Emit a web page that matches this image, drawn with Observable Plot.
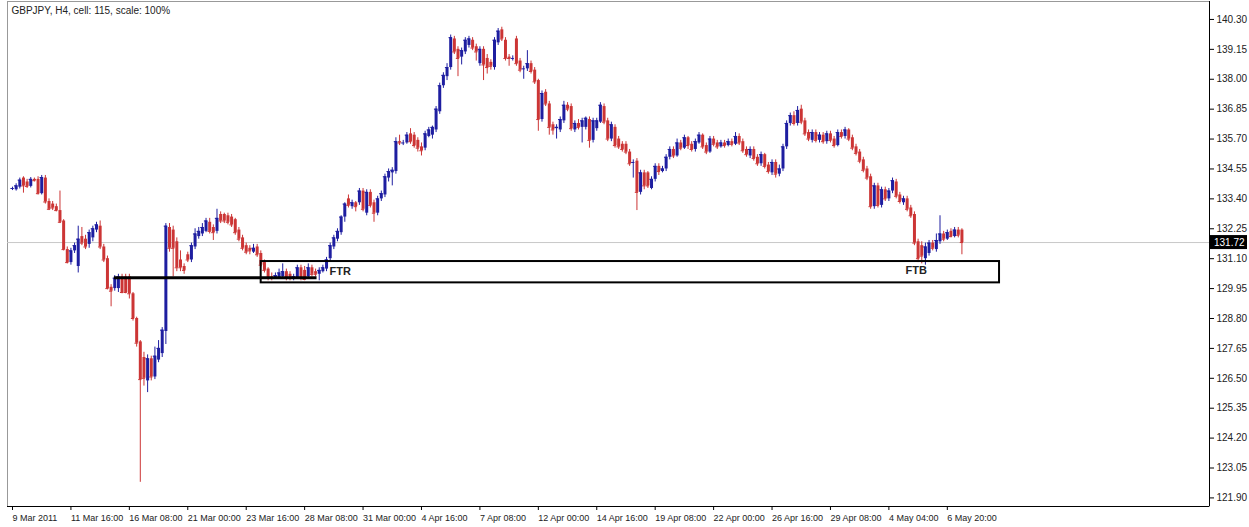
<!DOCTYPE html>
<html>
<head>
<meta charset="utf-8">
<script src="https://cdn.jsdelivr.net/npm/d3@7"></script>
<script src="https://cdn.jsdelivr.net/npm/@observablehq/plot@0.6"></script>
<style>
  html, body { margin: 0; padding: 0; background: #fff; }
  #chart svg { display: block; }
</style>
</head>
<body>
<div id="chart"></div>
<script>
const chartTitle = "GBPJPY, H4, cell: 115, scale: 100%";

// OHLC per H4 bar (bar index 0 = 9 Mar 2011)
const open = [
133.78,133.75,133.85,134.20,134.05,133.88,134.15,134.15,133.60,134.20,
133.30,133.20,133.10,132.95,132.55,131.45,130.95,131.40,130.80,131.95,
131.85,131.65,131.90,132.20,132.35,131.55,131.10,130.00,129.95,129.95,
130.40,130.40,130.40,129.75,128.80,127.90,127.30,126.40,127.25,126.55,
127.20,127.45,128.30,132.30,132.20,131.75,131.05,130.80,131.25,131.05,
131.55,131.95,132.05,132.15,132.50,132.30,132.15,132.80,132.80,132.75,
132.70,132.60,132.20,131.90,131.60,131.50,131.35,131.55,131.30,130.95,
130.70,130.40,130.35,130.35,130.40,130.60,130.50,130.30,130.35,130.75,
130.65,130.40,130.75,130.60,130.50,130.60,130.70,131.10,131.55,131.85,
132.10,132.70,133.40,133.10,133.25,133.25,133.70,132.85,133.65,133.25,
132.85,133.40,133.55,134.20,134.40,134.45,135.60,135.55,135.55,135.90,
135.85,135.65,135.40,135.35,135.80,135.85,136.05,136.75,137.75,138.10,
138.45,139.55,139.15,138.85,139.05,139.30,139.50,139.25,138.60,139.15,
138.80,138.65,138.45,139.40,139.90,139.50,138.85,138.80,139.55,138.70,
138.40,138.40,138.60,138.35,137.95,136.45,137.50,137.05,136.25,136.10,
136.05,136.40,137.00,136.95,136.05,136.30,136.15,136.15,136.45,135.65,
136.10,136.35,136.95,136.40,135.70,136.15,135.70,135.50,135.50,135.20,
134.80,134.85,133.65,134.40,134.40,133.80,134.15,134.65,134.45,134.55,
135.00,135.30,135.05,135.55,135.35,135.75,135.50,135.30,135.55,135.85,
135.45,135.20,135.70,135.55,135.40,135.55,135.45,135.60,135.50,135.80,
135.60,135.30,135.05,135.30,135.00,134.75,135.10,134.70,134.40,134.80,
134.35,134.55,135.40,136.30,136.60,136.30,136.85,136.40,135.95,135.65,
135.95,135.65,135.85,135.60,135.90,135.70,135.45,135.95,135.80,136.05,
135.75,135.40,135.20,134.90,134.55,134.25,133.10,133.90,133.15,133.75,
133.40,133.70,134.05,133.55,133.25,133.40,133.05,132.80,131.75,131.60,
131.10,131.30,131.70,131.45,131.75,132.05,131.85,132.15,131.95,132.20,
132.20
];
const high = [
133.85,133.98,134.20,134.25,134.15,134.22,134.20,134.25,134.30,134.30,
133.40,133.30,133.20,133.70,132.60,131.55,131.50,131.70,132.35,132.30,
132.00,132.20,132.35,132.50,132.55,131.65,131.20,130.10,130.45,130.50,
130.50,130.50,130.50,129.80,128.85,127.95,127.50,127.40,127.35,127.70,
127.95,128.45,132.45,132.45,132.35,131.90,131.40,130.90,131.35,131.70,
132.25,132.30,132.45,132.65,132.65,132.40,133.00,132.90,132.85,132.85,
132.80,132.65,132.30,132.00,131.70,131.60,131.65,131.65,131.40,131.05,
130.75,130.55,130.55,130.70,130.90,130.70,130.60,130.50,130.85,130.85,
130.80,130.90,130.85,130.70,130.75,130.85,131.15,131.70,132.00,132.25,
132.75,133.25,133.55,133.35,133.30,133.80,133.80,133.75,133.75,133.35,
133.50,133.70,134.35,134.55,134.60,135.75,135.85,135.65,135.95,136.10,
135.95,135.75,135.55,136.00,136.15,136.20,136.95,137.85,138.25,138.60,
139.70,139.65,139.25,139.20,139.60,139.65,139.60,139.35,139.25,139.25,
138.95,138.75,139.60,139.95,140.00,139.60,138.95,138.90,139.65,138.80,
138.50,139.10,138.70,138.45,138.00,137.55,137.60,137.15,136.35,136.25,
136.55,137.15,137.10,137.05,136.40,136.45,136.50,136.55,136.55,136.50,
136.50,137.10,137.05,136.50,136.35,136.25,135.80,135.60,135.60,135.30,
134.90,134.95,134.50,134.50,134.45,134.25,134.75,134.75,134.65,135.10,
135.40,135.40,135.70,135.65,135.85,135.80,135.60,135.70,135.95,135.90,
135.55,135.80,135.80,135.65,135.65,135.65,135.70,135.70,135.95,135.90,
135.70,135.40,135.40,135.40,135.10,135.20,135.15,134.80,134.90,134.90,
134.70,135.50,136.40,136.70,136.75,136.95,137.00,136.50,136.05,136.05,
136.05,135.95,135.95,136.00,136.00,135.80,136.05,136.05,136.15,136.10,
135.85,135.50,135.30,135.00,134.65,134.35,134.00,134.00,133.85,133.85,
133.80,134.20,134.15,133.65,133.50,133.50,133.15,132.90,131.85,131.75,
131.70,131.80,131.80,132.05,132.75,132.15,132.20,132.25,132.30,132.30,
132.25
];
const low = [
133.72,133.70,133.78,133.62,133.80,133.82,134.05,133.55,133.55,133.20,
132.95,132.95,132.90,132.45,131.40,130.90,130.85,131.30,130.55,131.60,
131.45,131.50,131.75,132.10,131.45,130.95,129.90,129.25,129.85,129.80,
129.75,129.75,129.55,128.70,127.70,122.50,126.20,125.95,126.40,126.45,
127.10,127.30,127.80,131.35,130.40,130.60,130.60,130.50,130.95,130.95,
131.45,131.85,131.95,132.10,132.05,131.80,132.05,132.45,132.45,132.40,
132.30,132.00,131.75,131.40,131.25,131.25,131.30,131.15,130.75,130.55,
130.25,130.25,130.30,130.30,130.30,130.25,130.25,130.25,130.30,130.25,
130.25,130.30,130.40,130.40,130.25,130.55,130.60,131.00,131.45,131.75,
132.00,132.50,133.05,133.00,132.90,133.15,132.90,132.75,133.05,132.50,
132.75,133.30,133.45,134.05,133.90,134.35,135.45,135.45,135.50,135.50,
135.35,135.20,135.05,135.25,135.75,135.70,135.95,136.65,137.65,137.95,
138.35,138.95,138.10,138.55,138.95,139.20,139.10,138.70,138.50,137.95,
138.20,138.35,138.35,139.30,139.45,138.70,138.50,138.70,138.50,138.25,
138.00,138.30,138.20,137.80,136.00,136.35,136.95,135.85,135.85,135.70,
135.95,136.30,136.75,136.00,135.95,136.05,135.55,136.05,135.35,135.55,
136.00,136.30,136.25,135.60,135.60,135.35,135.30,135.20,135.10,134.65,
134.20,132.95,133.55,133.75,133.80,133.75,134.05,134.30,134.40,134.45,
134.90,134.95,135.00,135.25,135.30,135.30,135.20,135.20,135.50,135.30,
135.10,135.15,135.40,135.30,135.35,135.35,135.40,135.40,135.45,135.45,
135.15,135.00,134.95,134.85,134.65,134.65,134.55,134.35,134.30,134.20,
134.25,134.45,135.30,136.20,136.20,136.20,136.25,135.80,135.60,135.55,
135.55,135.55,135.50,135.50,135.55,135.35,135.40,135.70,135.70,135.60,
135.25,135.05,134.75,134.40,134.10,133.00,133.00,133.05,133.05,133.30,
133.30,133.60,133.40,133.20,133.15,132.90,132.65,131.60,130.95,130.90,
130.85,131.20,131.40,131.35,131.65,131.75,131.80,131.90,131.90,131.90,
131.25
];
const close = [
133.80,133.90,134.12,133.90,133.88,134.15,134.10,133.60,134.22,133.28,
133.00,133.05,132.95,132.50,131.45,130.95,131.40,131.60,131.85,131.70,
131.55,132.10,132.25,132.40,131.55,131.05,129.95,129.85,130.35,130.40,
129.80,129.80,129.75,128.80,127.85,126.45,126.50,127.25,126.55,127.35,
127.65,128.35,132.35,131.50,131.50,130.75,130.75,130.65,131.05,131.60,
132.05,132.15,132.30,132.55,132.15,132.10,132.65,132.55,132.55,132.50,
132.40,132.10,131.85,131.50,131.35,131.40,131.50,131.25,130.85,130.65,
130.35,130.35,130.45,130.55,130.60,130.35,130.35,130.40,130.75,130.35,
130.30,130.75,130.50,130.50,130.65,130.75,131.05,131.60,131.90,132.15,
132.70,133.20,133.15,133.25,133.10,133.70,133.00,133.65,133.15,132.85,
133.40,133.60,134.25,134.45,134.50,135.60,135.55,135.55,135.85,135.60,
135.45,135.35,135.25,135.90,136.05,136.15,136.85,137.75,138.15,138.45,
139.60,139.05,138.80,139.10,139.50,139.55,139.20,139.05,139.15,138.55,
138.45,138.50,139.50,139.85,139.55,138.80,138.80,138.80,138.60,138.35,
138.40,138.60,138.30,137.90,136.45,137.45,137.05,136.15,136.05,136.15,
136.45,137.00,136.85,136.10,136.30,136.15,136.40,136.50,135.65,136.40,
136.40,137.00,136.35,135.70,136.25,135.45,135.40,135.30,135.20,134.75,
134.80,133.65,134.40,133.90,133.90,134.15,134.65,134.45,134.55,135.00,
135.30,135.05,135.55,135.35,135.75,135.45,135.30,135.60,135.85,135.40,
135.20,135.70,135.50,135.40,135.55,135.45,135.60,135.50,135.80,135.55,
135.25,135.10,135.30,134.95,134.75,135.10,134.65,134.45,134.80,134.35,
134.55,135.40,136.30,136.60,136.30,136.80,136.35,135.90,135.70,135.95,
135.65,135.85,135.60,135.90,135.65,135.45,135.95,135.80,136.05,135.70,
135.35,135.15,134.85,134.50,134.20,133.10,133.90,133.15,133.75,133.40,
133.70,134.10,133.50,133.30,133.40,133.00,132.75,131.70,131.10,131.20,
131.55,131.70,131.50,131.80,132.05,131.85,132.10,131.95,132.20,132.00,
131.72
];

// Bottom axis: a label every 16 bars
const xTickLabels = ["9 Mar 2011","11 Mar 16:00","16 Mar 08:00","21 Mar 00:00","23 Mar 16:00",
  "28 Mar 08:00","31 Mar 00:00","4 Apr 16:00","7 Apr 08:00","12 Apr 00:00","14 Apr 16:00",
  "19 Apr 08:00","22 Apr 00:00","26 Apr 16:00","29 Apr 08:00","4 May 04:00","6 May 20:00"];
const xTickBars = xTickLabels.map((_, k) => k * 16);
// Right axis price ticks
const yTicks = [140.30,139.15,138.00,136.85,135.70,134.55,133.40,132.25,131.10,129.95,
  128.80,127.65,126.50,125.35,124.20,123.05,121.90];
const lastPrice = 131.72;

// Annotations (bar index / price)
const zoneBars = [68.1, 270.3];
const zonePrices = [130.17, 130.99];
const levelBars = [27.9, 83.4];
const levelPrice = [130.37];
const ftrNote = {t: "FTR", x: 86.8, y: 130.62};
const ftbNote = {t: "FTB", x: 247.5, y: 130.64};

const xDomain = [-1.37, 327.8];
const yDomain = [121.57, 140.99];

const candles = open.map((o, i) => ({i, o, h: high[i], l: low[i], c: close[i], up: close[i] >= o}));
const BLUE = "#1e1ea0", RED = "#cc3535";
const FONT = "'Liberation Sans', Arial, sans-serif";

const plot = Plot.plot({
  width: 1249,
  height: 527,
  marginLeft: 7,
  marginRight: 40,
  marginTop: 1,
  marginBottom: 21,
  style: {fontFamily: FONT, background: "#fff"},
  x: {type: "linear", domain: xDomain, axis: null},
  y: {type: "linear", domain: yDomain, axis: null},
  marks: [
    Plot.frame({stroke: "#999"}),
    Plot.ruleX([xDomain[1]], {stroke: "#000", strokeWidth: 1}),
    Plot.ruleY([yDomain[0]], {stroke: "#000", strokeWidth: 1}),
    Plot.ruleY([lastPrice], {stroke: "#c8c8c8", strokeWidth: 1}),
    Plot.axisY(yTicks, {anchor: "right", tickSize: 4, tickPadding: 3, fontSize: 10, fill: "#222",
      tickFormat: d => d.toFixed(2)}),
    Plot.axisX(xTickBars, {anchor: "bottom", tickSize: 4, tickPadding: 4, fontSize: 9, fill: "#222",
      textAnchor: "start", tickFormat: d => xTickLabels[d / 16]}),
    // wicks
    Plot.ruleX(candles, {x: "i", y1: "l", y2: "h", stroke: d => d.up ? BLUE : RED, strokeWidth: 1}),
    // bodies
    Plot.ruleX(candles, {x: "i", y1: "o", y2: "c", stroke: d => d.up ? BLUE : RED, strokeWidth: 3, strokeLinecap: "butt"}),
    // close tick (visible for doji bars)
    Plot.ruleY(candles, {y: "c", x1: d => d.i - 0.45, x2: d => d.i + 0.45, stroke: d => d.up ? BLUE : RED, strokeWidth: 1}),
    // annotations
    Plot.ruleY(levelPrice, {x1: levelBars[0], x2: levelBars[1], stroke: "#000", strokeWidth: 3}),
    Plot.rect([0], {x1: zoneBars[0], x2: zoneBars[1], y1: zonePrices[0], y2: zonePrices[1], fill: "none", stroke: "#000", strokeWidth: 2}),
    Plot.text([ftrNote], {x: "x", y: "y", text: "t", textAnchor: "start", fontSize: 11, fontWeight: "bold", fill: "#222"}),
    Plot.text([ftbNote], {x: "x", y: "y", text: "t", textAnchor: "middle", fontSize: 11, fontWeight: "bold", fill: "#222"}),
    Plot.text([chartTitle], {frameAnchor: "top-left", dx: 4, dy: 5, fontSize: 10, fill: "#222", textAnchor: "start"})
  ]
});

document.getElementById("chart").appendChild(plot);

// last-price tag on the right axis
const svg = d3.select(plot);
const yPos = plot.scale("y").apply(lastPrice);
const tagX = 1249 - 40;
const g = svg.append("g");
g.append("rect").attr("x", tagX + 1).attr("y", yPos - 7).attr("width", 37).attr("height", 14).attr("fill", "#000");
g.append("text").attr("x", tagX + 5).attr("y", yPos).attr("dy", "0.35em").attr("text-anchor", "start")
  .attr("fill", "#fff").attr("font-size", 10).attr("font-family", FONT)
  .text(lastPrice.toFixed(2));
</script>
</body>
</html>
